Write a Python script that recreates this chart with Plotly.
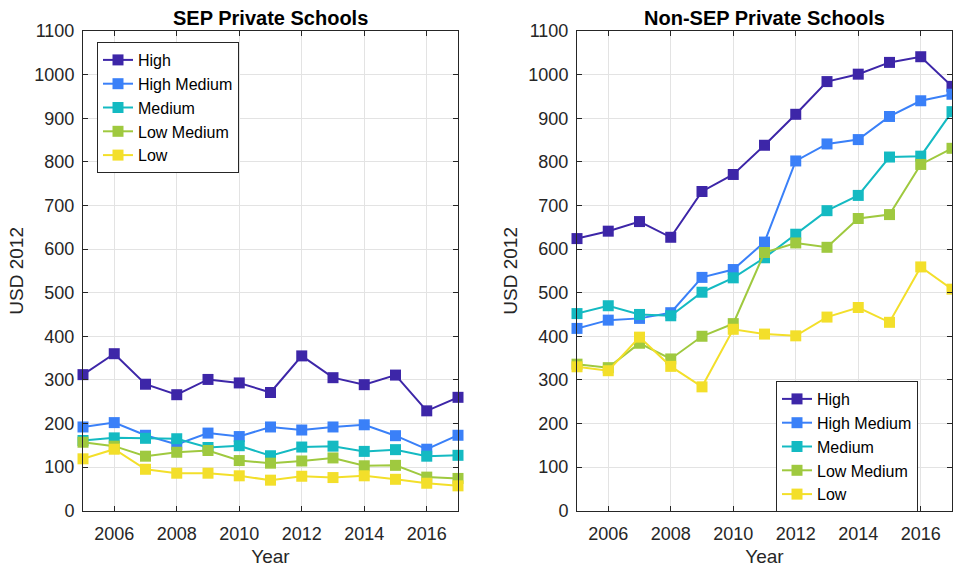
import plotly.graph_objects as go

years = list(range(2005, 2018))
series_names = ["High", "High Medium", "Medium", "Low Medium", "Low"]
colors = ["#3d26a8", "#3a80f8", "#14bac2", "#9fc93f", "#f3df2a"]

sep_high = [312, 360, 290, 266, 301, 293, 271, 355, 305, 289, 311, 229, 260]
sep_high_med = [192, 202, 173, 152, 178, 170, 192, 185, 192, 197, 172, 141, 173]
sep_medium = [161, 167, 166, 165, 145, 149, 126, 146, 148, 136, 140, 125, 127]
sep_low_med = [157, 148, 125, 134, 138, 115, 109, 114, 121, 103, 104, 77, 74]
sep_low = [119, 141, 95, 86, 86, 80, 70, 79, 76, 80, 72, 63, 57]

nonsep_high = [624, 641, 663, 627, 732, 771, 838, 909, 984, 1001, 1028, 1041, 973]
nonsep_high_med = [418, 437, 441, 454, 535, 553, 616, 802, 841, 851, 904, 940, 955]
nonsep_medium = [452, 470, 450, 447, 501, 534, 580, 634, 688, 723, 811, 813, 915]
nonsep_low_med = [336, 328, 384, 348, 400, 429, 592, 614, 604, 670, 679, 794, 831]
nonsep_low = [330, 321, 398, 331, 284, 416, 405, 401, 444, 466, 432, 559, 508]

x_tickvals = [2006, 2008, 2010, 2012, 2014, 2016]
y_tickvals = list(range(0, 1101, 100))

titles = ["SEP Private Schools", "Non-SEP Private Schools"]
FONT = "Liberation Sans, Arial, Helvetica, sans-serif"
TXT = "#262626"

fig = go.Figure()

sep = [sep_high, sep_high_med, sep_medium, sep_low_med, sep_low]
nonsep = [nonsep_high, nonsep_high_med, nonsep_medium, nonsep_low_med, nonsep_low]

for name, c, vals in zip(series_names, colors, sep):
    fig.add_trace(go.Scatter(x=years, y=vals, name=name, mode="lines+markers",
                             line=dict(color=c, width=2),
                             marker=dict(symbol="square", size=11, color=c),
                             cliponaxis=False, xaxis="x", yaxis="y", legend="legend"))
for name, c, vals in zip(series_names, colors, nonsep):
    fig.add_trace(go.Scatter(x=years, y=vals, name=name, mode="lines+markers",
                             line=dict(color=c, width=2),
                             marker=dict(symbol="square", size=11, color=c),
                             cliponaxis=False, xaxis="x2", yaxis="y2", legend="legend2"))

def xaxis(domain, anchor):
    return dict(domain=domain, anchor=anchor, range=[2005, 2017], tickvals=x_tickvals,
                showgrid=True, gridcolor="#e3e3e3", gridwidth=1, zeroline=False,
                showline=True, linecolor=TXT, linewidth=1, mirror="allticks",
                ticks="inside", ticklen=5, tickcolor=TXT, ticklabelstandoff=7,
                tickfont=dict(family=FONT, size=18, color=TXT),
                title=dict(text="Year", font=dict(family=FONT, size=19, color=TXT), standoff=7),
                automargin=False, fixedrange=True)

def yaxis(domain, anchor):
    return dict(domain=domain, anchor=anchor, range=[0, 1100], tickvals=y_tickvals,
                showgrid=True, gridcolor="#e3e3e3", gridwidth=1, zeroline=False,
                showline=True, linecolor=TXT, linewidth=1, mirror="allticks",
                ticks="inside", ticklen=5, tickcolor=TXT, ticklabelstandoff=4,
                tickfont=dict(family=FONT, size=18, color=TXT),
                title=dict(text="USD 2012", font=dict(family=FONT, size=19, color=TXT), standoff=5),
                automargin=False, fixedrange=True)

ydom = [1 - 510.7 / 567, 1 - 31 / 567]
legend_style = dict(bgcolor="white", bordercolor=TXT, borderwidth=1,
                    font=dict(family=FONT, size=16, color="black"),
                    xanchor="left", yanchor="top", tracegroupgap=0,
                    entrywidth=118, entrywidthmode="pixels")

fig.update_layout(
    width=953, height=567,
    margin=dict(l=0, r=0, t=0, b=0),
    paper_bgcolor="white", plot_bgcolor="white",
    showlegend=True,
    xaxis=xaxis([83 / 953, 458 / 953], "y"),
    yaxis=yaxis(ydom, "x"),
    xaxis2=xaxis([577 / 953, 952 / 953], "y2"),
    yaxis2=yaxis(ydom, "x2"),
    legend=dict(x=97 / 953, y=1 - 42 / 567, **legend_style),
    legend2=dict(x=776 / 953, y=1 - 381 / 567, **legend_style),
    annotations=[
        dict(text="<b>" + titles[0] + "</b>", x=(83 + 458) / 2 / 953, y=1 - 18 / 567,
             xref="paper", yref="paper", showarrow=False, xanchor="center", yanchor="middle",
             font=dict(family=FONT, size=20, color="black")),
        dict(text="<b>" + titles[1] + "</b>", x=(577 + 952) / 2 / 953, y=1 - 18 / 567,
             xref="paper", yref="paper", showarrow=False, xanchor="center", yanchor="middle",
             font=dict(family=FONT, size=20, color="black")),
    ],
)

fig.write_html("out.html", config={"displayModeBar": False},
               post_script="document.body.style.margin='0';document.body.style.overflow='hidden';")
